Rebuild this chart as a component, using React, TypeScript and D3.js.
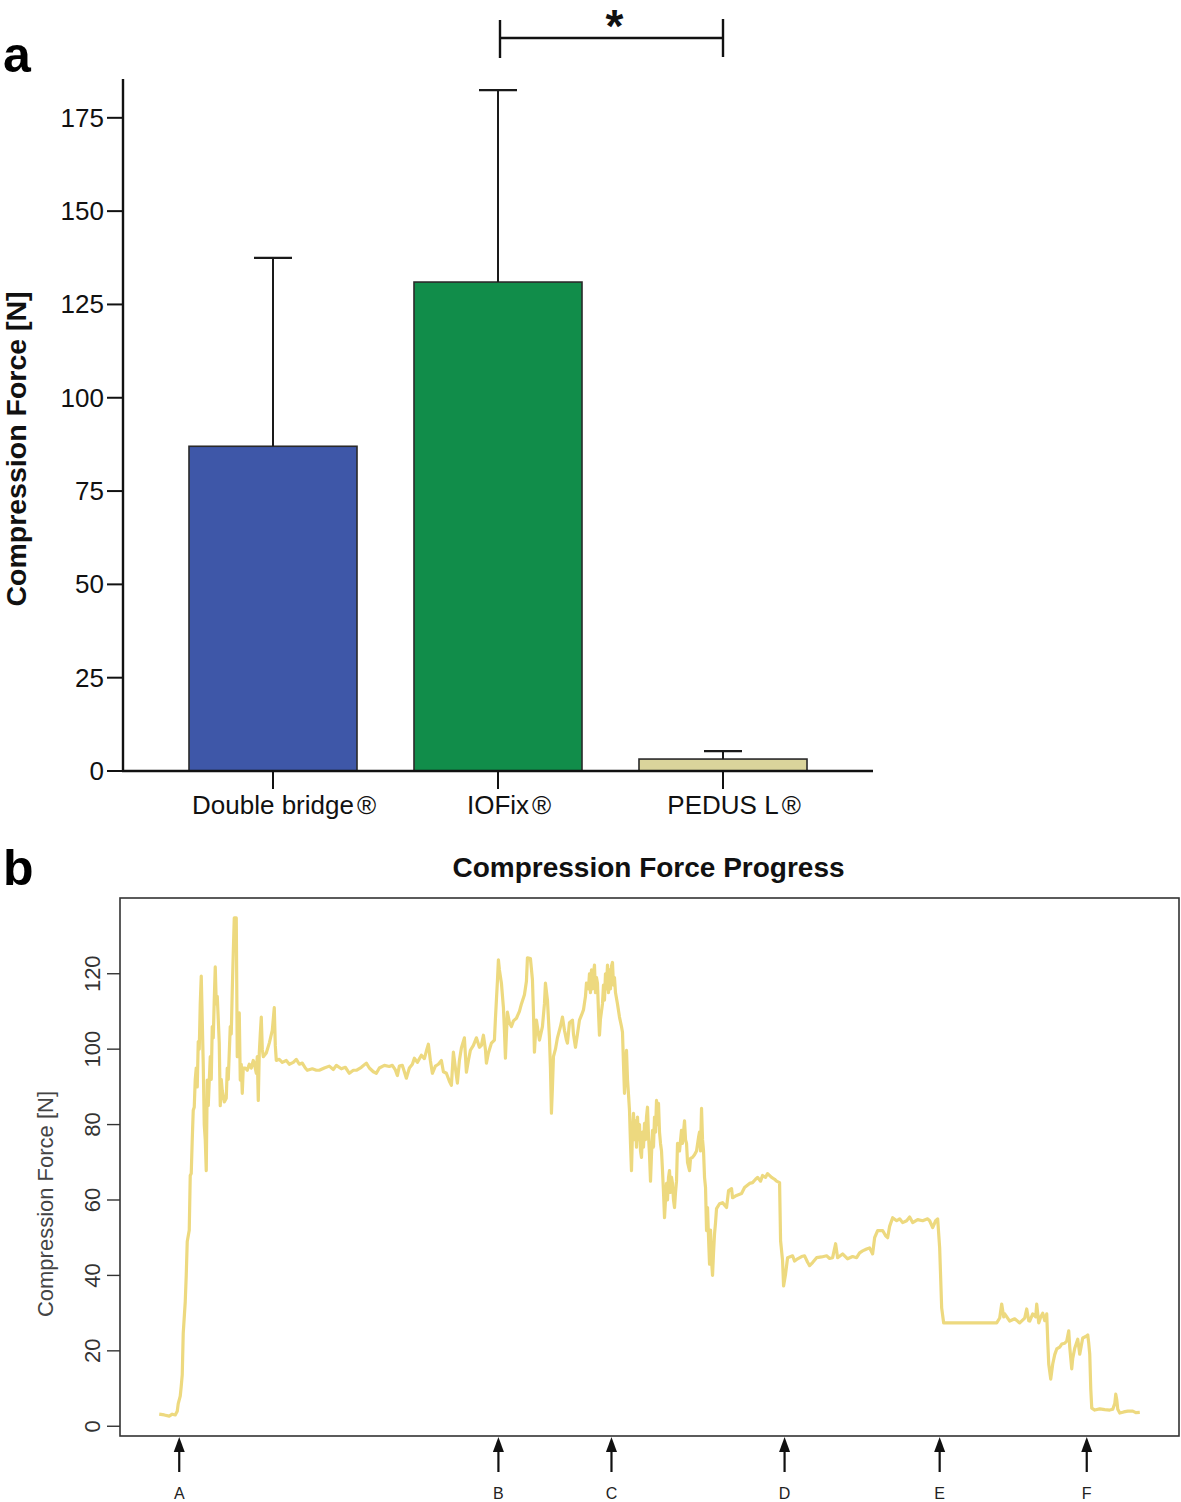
import React, { useEffect, useRef } from "react";
import * as d3 from "d3";

const W = 1181;
const H = 1502;
const FONT = "'Liberation Sans', Arial, Helvetica, sans-serif";

// ---------- Panel a data ----------
const implantNames = ["Double bridge", "IOFix", "PEDUS L"];
const meanForceN = [87.0, 131.0, 3.2];
const sdForceN = [50.5, 51.4, 2.1];
const barColors = ["#3E57A8", "#118D4A", "#DAD49B"];
const yTicksA = [0, 25, 50, 75, 100, 125, 150, 175];
const sigPair = ["IOFix", "PEDUS L"];

// ---------- Panel b data: [time, force N] ----------
const progressTrace: [number, number][] = [
  [0,3.2],[5,3.0],[10,2.7],[13,3.2],[16,3.0],[18,4.0],[19,6.0],[21,8.0],[22,10.6],[23,13.6],[24,24.7],[26,33.0],[27,40.0],[28,49.0],[30,52.0],[31,66.5],[32,67.0],[33,76.0],[34,83.8],[35,84.6],[36,92.0],[37,95.0],[38,90.0],[39,102.0],[40,100.0],[41,112.0],[42,119.4],[43,107.7],[44,96.0],[45,80.0],[46,76.0],[47,67.8],[48,91.8],[49,85.0],[51,98.0],[52,92.0],[53,106.0],[54,103.0],[55,113.0],[56,121.8],[57,112.0],[58,114.0],[59,108.0],[60,101.6],[61,85.0],[62,92.0],[63,89.0],[65,86.0],[67,87.0],[68,95.0],[69,92.0],[71,106.0],[72,104.0],[73,115.7],[74,125.5],[75,134.8],[77,134.8],[78,98.0],[79,104.0],[80,109.6],[81,91.8],[82,96.0],[83,88.3],[84,95.0],[86,95.0],[88,94.4],[90,96.0],[92,95.0],[94,97.0],[95,96.3],[97,93.6],[98,98.0],[99,86.4],[100,99.0],[101,104.0],[102,108.5],[103,100.0],[104,98.0],[107,99.0],[110,101.6],[113,105.0],[115,111.0],[116,101.0],[117,97.0],[120,97.3],[123,96.5],[127,97.0],[130,96.0],[134,96.5],[137,97.3],[140,96.0],[143,96.3],[146,95.0],[148,94.4],[153,94.8],[157,94.4],[160,94.4],[165,95.0],[170,95.5],[174,94.6],[177,95.7],[182,94.8],[186,95.2],[190,93.6],[194,94.4],[197,94.4],[202,95.2],[207,96.3],[210,95.0],[214,94.0],[217,93.6],[220,95.0],[225,95.7],[230,95.4],[233,95.7],[236,94.5],[238,93.0],[240,95.5],[243,95.7],[245,94.0],[247,92.3],[250,95.0],[253,96.0],[255,97.6],[258,96.5],[262,98.4],[265,97.5],[267,99.5],[269,101.3],[271,97.0],[273,93.6],[276,95.5],[279,96.0],[282,97.0],[284,94.0],[287,93.6],[290,91.5],[292,90.4],[294,99.2],[296,95.0],[298,91.0],[300,97.0],[302,100.3],[305,103.0],[307,93.9],[309,97.0],[311,99.7],[314,101.0],[317,103.0],[320,100.5],[322,101.0],[324,103.7],[326,100.0],[327,96.3],[329,99.0],[332,101.6],[335,102.4],[336,108.0],[337,113.0],[338,118.0],[339,123.7],[340,121.0],[342,117.5],[344,111.0],[345,105.0],[346,97.6],[347,104.0],[348,109.8],[350,107.0],[352,106.0],[354,107.5],[357,108.2],[360,110.0],[362,112.0],[365,114.4],[367,118.0],[368,124.2],[371,124.0],[373,118.4],[374,110.0],[375,99.2],[376,104.0],[377,107.7],[379,104.0],[380,102.4],[383,106.0],[385,112.0],[386,117.5],[388,113.0],[389,108.0],[390,103.0],[391,95.0],[392,83.0],[393,90.0],[394,98.0],[396,100.0],[398,103.0],[401,106.0],[403,108.5],[405,105.0],[407,102.4],[408,101.6],[410,107.0],[413,107.7],[414,104.0],[416,100.5],[418,104.0],[420,107.7],[422,109.0],[424,110.4],[426,114.0],[427,117.5],[429,116.0],[430,120.0],[431,115.0],[432,121.0],[433,116.0],[434,120.0],[435,122.3],[436,115.0],[437,119.0],[438,117.5],[439,110.0],[440,103.7],[441,108.0],[443,112.0],[444,117.0],[445,113.0],[446,120.0],[447,116.0],[448,122.3],[449,115.0],[450,121.0],[451,116.0],[452,122.0],[453,123.0],[454,117.0],[455,119.0],[456,115.0],[458,112.0],[460,108.5],[462,106.0],[463,104.5],[464,96.0],[465,88.3],[466,95.0],[467,99.7],[468,92.0],[469,88.0],[470,83.8],[471,75.0],[472,67.8],[473,78.0],[474,83.0],[475,76.0],[476,81.0],[477,74.0],[478,82.0],[479,76.0],[480,80.0],[481,73.0],[482,71.3],[483,78.0],[484,74.0],[485,80.3],[486,76.0],[487,82.0],[488,84.6],[489,77.0],[490,72.0],[491,65.0],[492,72.0],[493,78.5],[494,74.0],[495,82.0],[496,78.0],[497,86.4],[498,80.0],[499,85.6],[500,78.0],[501,75.0],[502,73.0],[503,67.8],[504,62.0],[505,55.3],[506,60.0],[507,64.4],[508,60.0],[509,66.0],[510,67.8],[511,62.0],[512,66.0],[513,64.4],[514,60.0],[515,58.0],[516,62.0],[517,65.0],[518,75.0],[520,73.0],[522,78.5],[523,75.0],[525,81.0],[526,76.0],[527,75.0],[528,70.0],[530,67.8],[531,71.0],[533,71.3],[535,72.0],[537,73.0],[539,76.6],[540,78.0],[541,73.0],[542,84.3],[543,76.0],[544,73.0],[545,66.0],[546,63.3],[547,51.9],[548,58.0],[549,50.0],[550,43.0],[551,52.0],[552,44.0],[553,40.0],[554,46.0],[555,51.0],[556,54.0],[557,57.7],[560,59.0],[563,59.3],[567,58.0],[569,62.5],[572,63.0],[573,60.6],[577,61.2],[582,61.7],[585,63.3],[590,64.4],[593,64.6],[596,65.5],[598,66.0],[601,65.0],[603,66.5],[606,66.0],[608,67.0],[612,66.0],[615,65.5],[617,65.0],[620,64.6],[621,49.2],[623,43.9],[624,37.2],[626,40.4],[628,44.7],[633,45.2],[635,43.8],[638,44.4],[642,45.0],[645,45.2],[648,43.5],[650,42.6],[653,43.4],[657,44.7],[662,44.9],[667,45.2],[670,44.5],[673,44.7],[676,48.4],[678,44.7],[683,45.7],[688,44.4],[693,45.0],[697,44.7],[700,46.0],[703,46.5],[707,47.0],[710,47.3],[713,45.7],[715,50.0],[718,51.9],[723,51.9],[726,50.5],[728,50.0],[730,53.0],[733,55.3],[737,54.5],[740,55.0],[743,54.0],[747,54.5],[750,55.5],[753,54.0],[758,54.8],[763,54.5],[768,55.0],[770,54.5],[773,52.7],[776,54.5],[778,55.0],[780,47.3],[782,31.4],[784,27.4],[803,27.4],[820,27.4],[837,27.4],[840,28.7],[842,32.4],[844,29.0],[845,29.8],[850,27.9],[855,28.5],[860,27.4],[865,28.7],[867,31.1],[869,28.0],[870,27.9],[873,29.8],[876,29.0],[877,32.4],[879,27.4],[881,29.0],[883,30.0],[885,28.0],[887,29.8],[888,22.6],[889,16.5],[891,12.5],[893,16.5],[895,19.0],[897,20.5],[900,21.0],[902,21.8],[905,22.0],[907,22.6],[909,25.3],[910,21.0],[912,15.2],[913,18.0],[915,20.7],[918,23.1],[920,19.1],[922,22.0],[923,23.4],[926,23.8],[928,24.2],[929,22.0],[930,19.1],[931,10.0],[932,4.8],[935,4.3],[940,4.6],[945,4.4],[950,4.3],[953,4.5],[955,6.0],[956,8.5],[957,7.0],[958,4.5],[960,3.5],[964,3.8],[968,4.0],[973,4.0],[976,3.6],[980,3.7]
];
const eventLabels = ["A", "B", "C", "D", "E", "F"];
const eventTimes = [20, 339, 452, 625, 780, 927];
const yTicksB = [0, 20, 40, 60, 80, 100, 120];

export default function App() {
  const ref = useRef<SVGSVGElement>(null);

  useEffect(() => {
    const svg = d3.select(ref.current as SVGSVGElement);
    svg.selectAll("*").remove();
    svg.attr("font-family", FONT);

    // ================= Panel a =================
    const ga = svg.append("g");
    ga.append("text").attr("x", 3).attr("y", 72).attr("font-size", 50).attr("font-weight", "bold").text("a");

    const x = d3.scaleBand<string>().domain(implantNames).range([123, 873]).paddingInner(0.2533).paddingOuter(0.2933);
    const yA = d3.scaleLinear().domain([0, 185.4]).range([771, 79]);

    implantNames.forEach((name, i) => {
      const x0 = x(name)!;
      const bw = x.bandwidth();
      ga.append("rect")
        .attr("x", x0).attr("y", yA(meanForceN[i]))
        .attr("width", bw).attr("height", yA(0) - yA(meanForceN[i]))
        .attr("fill", barColors[i]).attr("stroke", "#2a2a2a").attr("stroke-width", 1.6);
      const cx = x0 + bw / 2;
      const top = yA(meanForceN[i] + sdForceN[i]);
      ga.append("line").attr("x1", cx).attr("x2", cx).attr("y1", yA(meanForceN[i])).attr("y2", top)
        .attr("stroke", "#1a1a1a").attr("stroke-width", 2);
      ga.append("line").attr("x1", cx - 19).attr("x2", cx + 19).attr("y1", top).attr("y2", top)
        .attr("stroke", "#1a1a1a").attr("stroke-width", 2.2);
    });

    ga.append("line").attr("x1", 123).attr("x2", 123).attr("y1", yA(185.4)).attr("y2", yA(0) + 1)
      .attr("stroke", "#111").attr("stroke-width", 2.4);
    yTicksA.forEach((t) => {
      ga.append("line").attr("x1", 107).attr("x2", 123).attr("y1", yA(t)).attr("y2", yA(t))
        .attr("stroke", "#111").attr("stroke-width", 2);
      ga.append("text").attr("x", 104).attr("y", yA(t) + 9).attr("text-anchor", "end")
        .attr("font-size", 26).attr("fill", "#111").text(String(t));
    });
    ga.append("line").attr("x1", 122).attr("x2", 873).attr("y1", yA(0)).attr("y2", yA(0))
      .attr("stroke", "#111").attr("stroke-width", 2.4);
    implantNames.forEach((name) => {
      const cx = x(name)! + x.bandwidth() / 2;
      ga.append("line").attr("x1", cx).attr("x2", cx).attr("y1", yA(0)).attr("y2", yA(0) + 18)
        .attr("stroke", "#111").attr("stroke-width", 2);
      const t = ga.append("text").attr("x", cx).attr("y", 814).attr("text-anchor", "middle")
        .attr("font-size", 26).attr("fill", "#111").text(name);
      const w = (t.node() as SVGTextElement).getComputedTextLength();
      ga.append("text").attr("x", cx + w / 2 + 3).attr("y", 814).attr("font-size", 26).attr("fill", "#111").text("®");
    });
    ga.append("text").attr("transform", "translate(26,449) rotate(-90)").attr("text-anchor", "middle")
      .attr("font-size", 28.5).attr("font-weight", "bold").attr("fill", "#111").text("Compression Force [N]");

    const sx1 = x(sigPair[0])! + x.bandwidth() / 2 + 2;
    const sx2 = x(sigPair[1])! + x.bandwidth() / 2;
    ga.append("line").attr("x1", sx1).attr("x2", sx2).attr("y1", 38).attr("y2", 38).attr("stroke", "#111").attr("stroke-width", 2.4);
    ga.append("line").attr("x1", sx1).attr("x2", sx1).attr("y1", 20).attr("y2", 58).attr("stroke", "#111").attr("stroke-width", 2.4);
    ga.append("line").attr("x1", sx2).attr("x2", sx2).attr("y1", 19).attr("y2", 57).attr("stroke", "#111").attr("stroke-width", 2.4);
    ga.append("text").attr("x", (sx1 + sx2) / 2 + 3).attr("y", 42).attr("text-anchor", "middle")
      .attr("font-size", 46).attr("font-weight", "bold").attr("fill", "#111").text("*");

    // ================= Panel b =================
    const gb = svg.append("g");
    gb.append("text").attr("x", 3).attr("y", 885).attr("font-size", 50).attr("font-weight", "bold").text("b");

    const box = { l: 120, r: 1179, t: 898, b: 1436 };
    const tExt = d3.extent(progressTrace, (d) => d[0]) as [number, number];
    const fExt = d3.extent(progressTrace, (d) => d[1]) as [number, number];
    const tPad = (tExt[1] - tExt[0]) * 0.04;
    const fPad = (fExt[1] - fExt[0]) * 0.04;
    const xB = d3.scaleLinear().domain([tExt[0] - tPad, tExt[1] + tPad]).range([box.l, box.r]);
    const yB = d3.scaleLinear().domain([fExt[0] - fPad, fExt[1] + fPad]).range([box.b, box.t]);

    gb.append("text").attr("x", (box.l + box.r) / 2 - 1).attr("y", 877).attr("text-anchor", "middle")
      .attr("font-size", 28).attr("font-weight", "bold").attr("fill", "#111").text("Compression Force Progress");

    const line = d3.line<[number, number]>().x((d) => xB(d[0])).y((d) => yB(d[1]));
    gb.append("path").attr("d", line(progressTrace)!).attr("fill", "none")
      .attr("stroke", "#EDD97F").attr("stroke-width", 3.2).attr("stroke-linejoin", "round");

    gb.append("rect").attr("x", box.l).attr("y", box.t).attr("width", box.r - box.l).attr("height", box.b - box.t)
      .attr("fill", "none").attr("stroke", "#333").attr("stroke-width", 1.6);

    yTicksB.forEach((t) => {
      gb.append("line").attr("x1", 107).attr("x2", box.l).attr("y1", yB(t)).attr("y2", yB(t))
        .attr("stroke", "#333").attr("stroke-width", 1.4);
      gb.append("text").attr("transform", `translate(100,${yB(t)}) rotate(-90)`).attr("text-anchor", "middle")
        .attr("font-size", 22).attr("fill", "#333").text(String(t));
    });
    gb.append("text").attr("transform", "translate(53,1204) rotate(-90)").attr("text-anchor", "middle")
      .attr("font-size", 22).attr("fill", "#444").text("Compression Force [N]");

    eventTimes.forEach((t, i) => {
      const ax = xB(t);
      gb.append("line").attr("x1", ax).attr("x2", ax).attr("y1", 1472).attr("y2", 1448)
        .attr("stroke", "#111").attr("stroke-width", 2.2);
      gb.append("path").attr("d", `M${ax},${1437} L${ax - 5.5},${1452} L${ax + 5.5},${1452} Z`).attr("fill", "#111");
      gb.append("text").attr("x", ax).attr("y", 1499).attr("text-anchor", "middle")
        .attr("font-size", 16).attr("fill", "#222").text(eventLabels[i]);
    });
  }, []);

  return (
    <svg
      ref={ref}
      width={W}
      height={H}
      style={{ position: "absolute", left: 0, top: 0, background: "#fff" }}
    />
  );
}
